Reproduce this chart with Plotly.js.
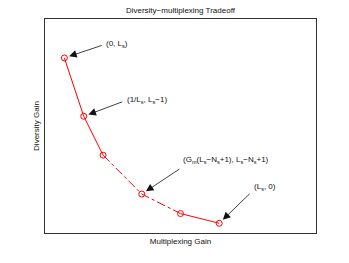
<!DOCTYPE html>
<html><head><meta charset="utf-8">
<script src="https://cdn.plot.ly/plotly-3.0.1.min.js"></script>
<style>html,body{margin:0;padding:0;background:#fff;}#c{width:349px;height:263px;}</style>
</head><body><div id="c"></div>
<script>
const multiplexing = [0, 1, 2, 4, 6, 8];
const diversity = [9, 6, 4, 2, 1, 0.5];
const solidA = [0, 1, 2];
const dashB = [2, 3, 4];
const solidC = [4, 5];
const labels = [
  {i: 0, text: "(0, L<sub>s</sub>)"},
  {i: 1, text: "(1/L<sub>s</sub>, L<sub>s</sub>−1)"},
  {i: 3, text: "(G<sub>m</sub>(L<sub>s</sub>−N<sub>s</sub>+1), L<sub>s</sub>−N<sub>s</sub>+1)"},
  {i: 5, text: "(L<sub>s</sub>, 0)"}
];
const arrowOff = [[39,-13],[40,-15],[39,-26],[32,-31]];
const textShift = [[40,14],[41,16],[39,34],[33,36]];

const red = '#ff0000';
function seg(idx, dash){
  return {x: idx.map(i=>multiplexing[i]), y: idx.map(i=>diversity[i]), mode:'lines',
    line:{color:red, width:1, dash:dash}, hoverinfo:'skip', showlegend:false};
}
const traces = [
  seg(solidA,'solid'), seg(dashB,'dashdot'), seg(solidC,'solid'),
  {x: multiplexing, y: diversity, mode:'markers', showlegend:false,
   marker:{symbol:'circle-open', size:6, color:red, line:{width:1, color:red}}}
];
const font = {family:'Liberation Sans, Arial, sans-serif', size:8, color:'#111'};
const ann = [];
labels.forEach((l,k)=>{
  ann.push({x: multiplexing[l.i], y: diversity[l.i], xref:'x', yref:'y', text:'',
    showarrow:true, ax: arrowOff[k][0], ay: arrowOff[k][1], arrowhead:2, arrowsize:1.9,
    arrowwidth:0.8, arrowcolor:'#111', standoff:5});
  ann.push({x: multiplexing[l.i], y: diversity[l.i], xref:'x', yref:'y', text:l.text,
    showarrow:false, xanchor:'left', yanchor:'middle', xshift: textShift[k][0], yshift: textShift[k][1], font: font});
});
const layout = {
  width:349, height:263,
  margin:{l:45, r:33, t:19, b:30},
  paper_bgcolor:'#fff', plot_bgcolor:'#fff',
  font: font,
  title:{text:'Diversity−multiplexing Tradeoff', font:font, x:0.517, xanchor:'center', y:0.962, yanchor:'middle'},
  xaxis:{range:[-1,13], showgrid:false, zeroline:false, showticklabels:false, ticks:'',
    showline:true, mirror:true, linecolor:'#333', linewidth:1,
    title:{text:'Multiplexing Gain', font:font, standoff:5}},
  yaxis:{range:[0,11], showgrid:false, zeroline:false, showticklabels:false, ticks:'',
    showline:true, mirror:true, linecolor:'#333', linewidth:1,
    title:{text:'Diversity Gain', font:font, standoff:3}},
  annotations: ann
};
Plotly.newPlot('c', traces, layout, {displayModeBar:false, staticPlot:true});
</script></body></html>
